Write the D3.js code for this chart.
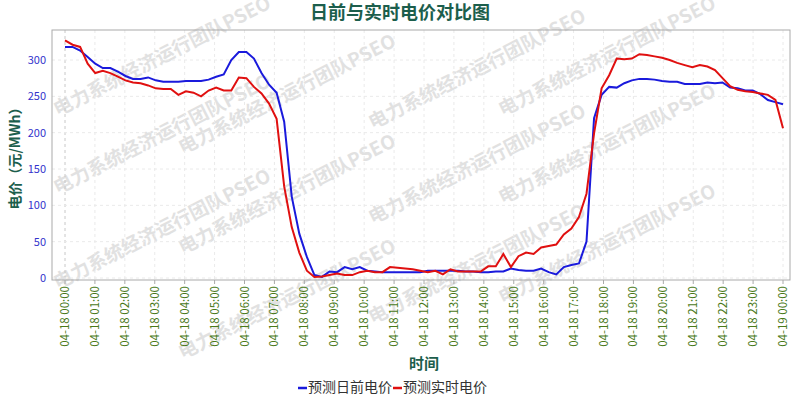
<!DOCTYPE html>
<html><head><meta charset="utf-8">
<script src="https://cdn.jsdelivr.net/npm/d3@7"></script>
<style>body{margin:0;background:#fff}text{font-family:"Noto Sans CJK SC","DejaVu Sans",sans-serif}</style>
</head><body><svg id="c" width="800" height="400"></svg>
<script>
const hours = d3.range(25);
const tickLabels = hours.map(h => (h < 24 ? "04-18 " : "04-19 ") + String(h % 24).padStart(2, "0") + ":00");
const dayAhead = [318,318,313,304,295,289,289,284,278,274,274,276,272,270,270,270,271,271,271,273,277,280,300,311,311,302,282,266,255,215,112,61,29,4,1.5,9,8,15,12,15,10,9,8,8,8,8,8,8,10,10,10,10,10,9,9,8,8,9,9,13,11,10,10,13,8,5,15,18,20,50,220,252,263,262,268,272,274,274,273,271,270,270,267,267,267,269,268,269,262,261,258,258,253,245,242,239];
const realTime = [327,321,318,295,282,285,282,277,272,269,268,265,261,260,260,252,257,255,250,258,262,258,258,276,275,263,254,240,219,126,70,35,10,1.5,2,4,6,4,4,8,10,8,8,15,14,13,12,10,8,10,5,12,9,9,9,9,16,16,33,15,30,35,33,42,44,46,60,68,84,116,199,261,279,302,301,302,308,307,305,303,300,296,293,290,293,291,286,275,264,259,257,256,254,252,245,206];
const yTicks = [0,50,100,150,200,250,300];
const seriesNames = ["预测日前电价","预测实时电价"];
const colors = ["#1a1adc","#e01010"];

const svg = d3.select("#c");
const L=52,R=790,T=30,B=280;
const x = d3.scaleLinear().domain([0,24]).range([65,783]);
const y = d3.scaleLinear().domain([0,300]).range([278,60]);

[[165,62],[165,140],[165,235],[290,100],[290,200],[290,305],[480,75],[480,170],[480,270],[610,62],[610,150],[610,250]].forEach(([cx,cy])=>{
  svg.append("text").attr("transform",`translate(${cx},${cy}) rotate(-27)`).attr("text-anchor","middle")
    .attr("font-size",19).attr("font-weight","bold").attr("fill","#d8d8d8").attr("opacity",0.75).text("电力系统经济运行团队PSEO");
});

const g = svg.append("g");
g.selectAll(".vg").data(hours).join("line").attr("x1",d=>x(d)).attr("x2",d=>x(d)).attr("y1",T).attr("y2",B)
  .attr("stroke",d=>d===0?"#c8c8c8":"#eaeaea").attr("stroke-dasharray","3,3");
g.selectAll(".hg").data(yTicks).join("line").attr("x1",L).attr("x2",R).attr("y1",d=>y(d)).attr("y2",d=>y(d))
  .attr("stroke","#eaeaea").attr("stroke-dasharray","3,3");
g.append("rect").attr("x",L).attr("y",T).attr("width",R-L).attr("height",B-T).attr("fill","none").attr("stroke","#aaa");

g.selectAll(".yl").data(yTicks).join("text").attr("x",L-6).attr("y",d=>y(d)+4).attr("text-anchor","end")
  .attr("font-size",11).attr("fill","#3333cc").attr("font-family","Arial, Liberation Sans, sans-serif").text(d=>d);
g.selectAll(".xt").data(hours).join("line").attr("x1",d=>x(d)).attr("x2",d=>x(d)).attr("y1",B).attr("y2",B+4).attr("stroke","#aaa");
g.selectAll(".xl").data(hours).join("text")
  .attr("transform",d=>`translate(${x(d)+4},${B+6}) rotate(-90)`).attr("text-anchor","end")
  .attr("font-size",11.5).attr("fill","#4a7a1a").text((d,i)=>tickLabels[i]);

const step = 24/95;
const line = d3.line().x((d,i)=>x(i*step)).y(d=>y(d));
[dayAhead, realTime].forEach((s,k)=>{
  g.append("path").datum(s).attr("d",line).attr("fill","none").attr("stroke",colors[k]).attr("stroke-width",2);
});

svg.append("text").attr("x",400).attr("y",19).attr("text-anchor","middle").attr("font-size",18).attr("font-weight","bold").attr("fill","#1c5e4c").text("日前与实时电价对比图");
svg.append("text").attr("transform","translate(20,155) rotate(-90)").attr("text-anchor","middle").attr("font-size",14).attr("font-weight","bold").attr("fill","#1c5e4c").text("电价（元/MWh）");
svg.append("text").attr("x",424).attr("y",369).attr("text-anchor","middle").attr("font-size",15).attr("font-weight","bold").attr("fill","#1c5e4c").text("时间");

const lg = svg.append("g");
let lx = 298;
seriesNames.forEach((n,k)=>{
  lg.append("line").attr("x1",lx).attr("x2",lx+9).attr("y1",388).attr("y2",388).attr("stroke",colors[k]).attr("stroke-width",2.5);
  const tx = lg.append("text").attr("x",lx+10).attr("y",392).attr("font-size",14).attr("fill","#333").text(n);
  lx += 10 + tx.node().getComputedTextLength() + 1;
});
</script></body></html>
